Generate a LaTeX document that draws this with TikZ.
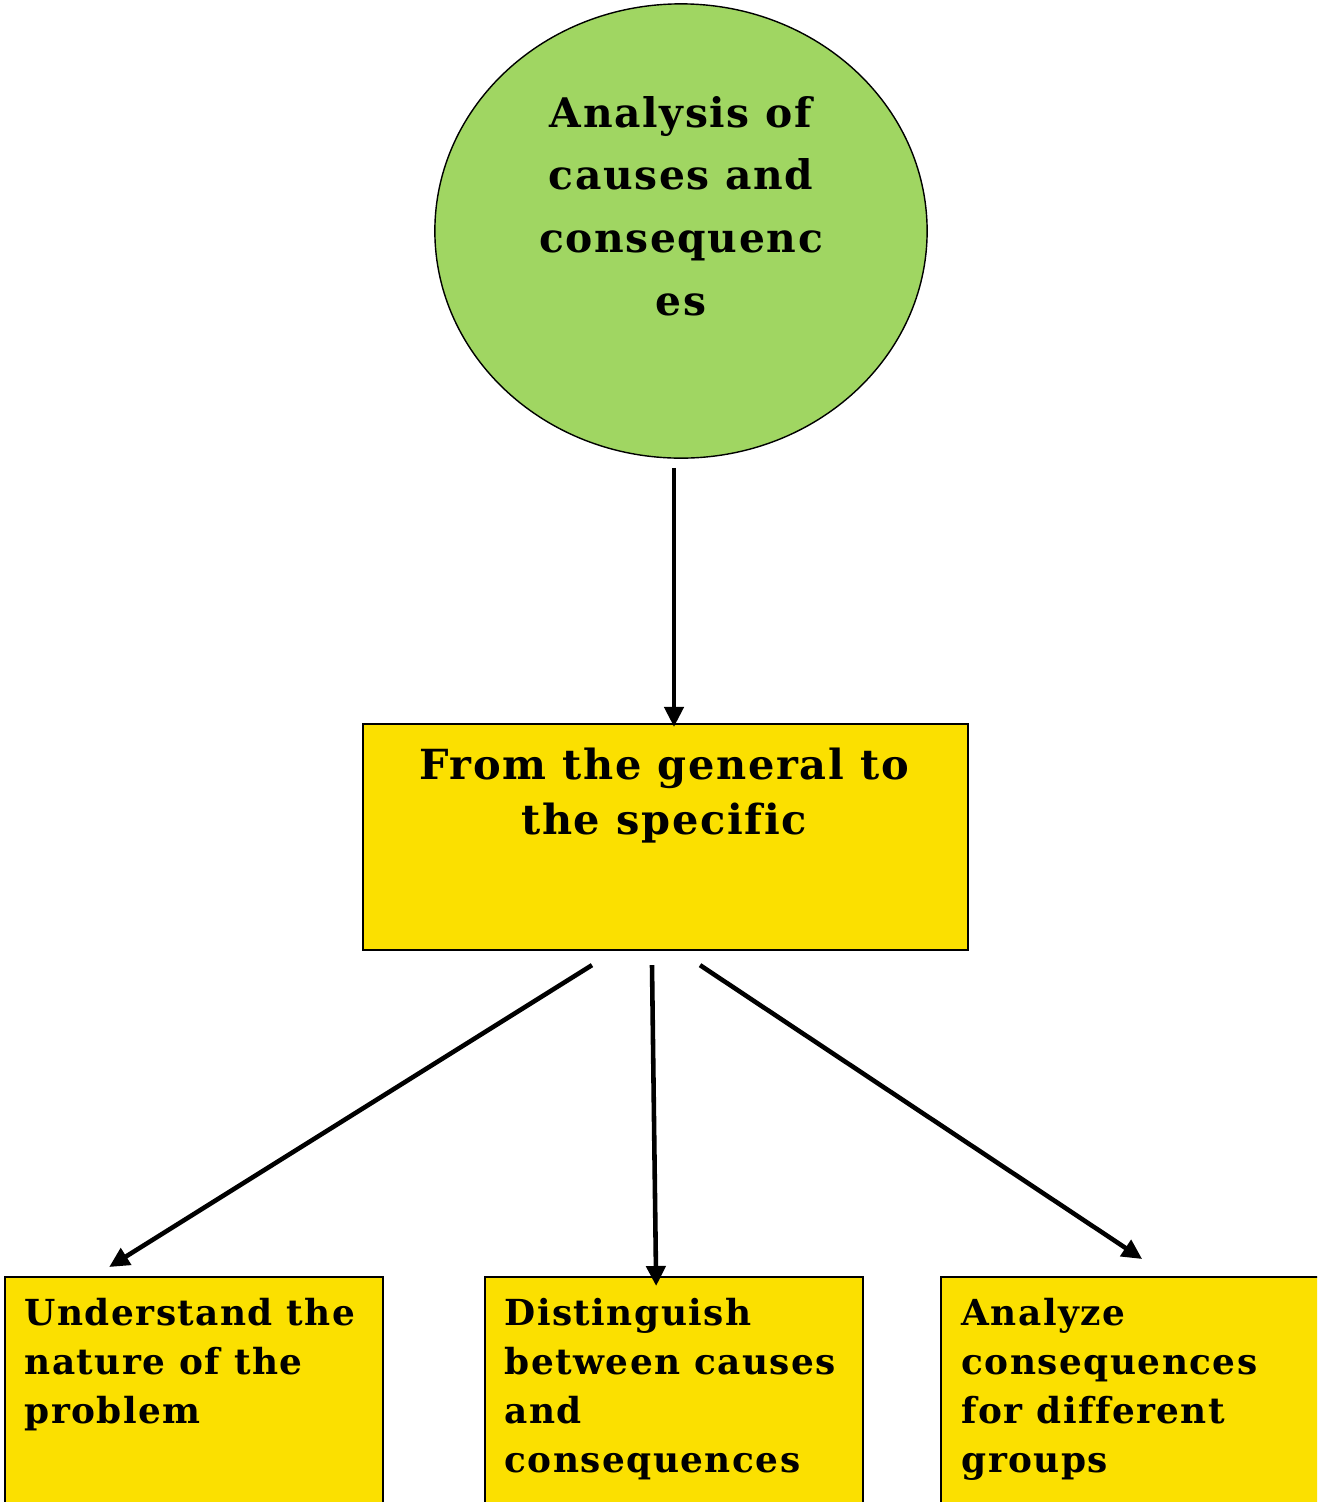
\documentclass[tikz,border=0pt]{standalone}
\usepackage{fontspec}
\setmainfont{DejaVu Serif}
\newfontfamily\boxfont{DejaVu Serif Bold}[LetterSpace=4,Ligatures=NoCommon]
\usetikzlibrary{shapes.geometric,arrows.meta,calc}
\definecolor{leaf}{RGB}{160,214,98}
\definecolor{sun}{RGB}{251,224,0}
\begin{document}
\begin{tikzpicture}[x=0.01cm,y=-0.01cm,
  boxstyle/.style={draw=black,line width=0.6pt,fill=sun,rectangle,inner sep=0},
  link/.style={line width=1.3pt,-{Triangle[length=0.2cm,width=0.19cm]}},
  bigtext/.style={inner sep=0,align=center,font=\boxfont\fontsize{11.6pt}{17.8pt}\selectfont},
  midtext/.style={inner sep=0,align=center,font=\boxfont\fontsize{11.8pt}{15.4pt}\selectfont},
  smalltext/.style={inner sep=0,align=left,font=\boxfont\fontsize{10.2pt}{13.85pt}\selectfont}]
\useasboundingbox (0,0) rectangle (1317,1502);
\clip (0,0) rectangle (1317,1502);

% top ellipse
\node[ellipse,draw,line width=0.4pt,fill=leaf,minimum width=4.92cm,minimum height=4.54cm,inner sep=0] (topic) at (681,231) {};
\node[bigtext,anchor=base] (topictext) at (681,315) {Analysis of\\causes and\\consequenc\\es};

% middle box
\node[boxstyle,minimum width=6.05cm,minimum height=2.26cm] (general) at (665.5,837) {};
\node[midtext,anchor=base] (generaltext) at (664,834) {From the general to\\the specific};

% bottom boxes (run past the lower edge)
\node[boxstyle,anchor=north west,minimum width=3.78cm,minimum height=3cm] (nature) at (4,1276) {};
\node[boxstyle,anchor=north west,minimum width=3.78cm,minimum height=3cm] (distinguish) at (484,1276) {};
\node[boxstyle,anchor=north west,minimum width=3.80cm,minimum height=3cm] (groups) at (940,1276) {};
\node[smalltext,anchor=base west] (naturetext) at (24,1423) {Understand the\\nature of the\\problem};
\node[smalltext,anchor=base west] (distinguishtext) at (504,1472) {Distinguish\\between causes\\and\\consequences};
\node[smalltext,anchor=base west] (groupstext) at (961,1472) {Analyze\\consequences\\for different\\groups};

% connectors
\draw[link] ($(topic.south)+(-7,9)$) -- ($(general.north)+(8.5,4)$);
\draw[link] ($(general.south)+(-73.5,14)$) -- ($(nature.north)+(-85,-9)$);
\draw[link] ($(general.south)+(-13.5,14)$) -- ($(distinguish.north)+(-18,10)$);
\draw[link] ($(general.south)+(34.5,14)$) -- ($(groups.north)+(11,-17)$);
\end{tikzpicture}
\end{document}
